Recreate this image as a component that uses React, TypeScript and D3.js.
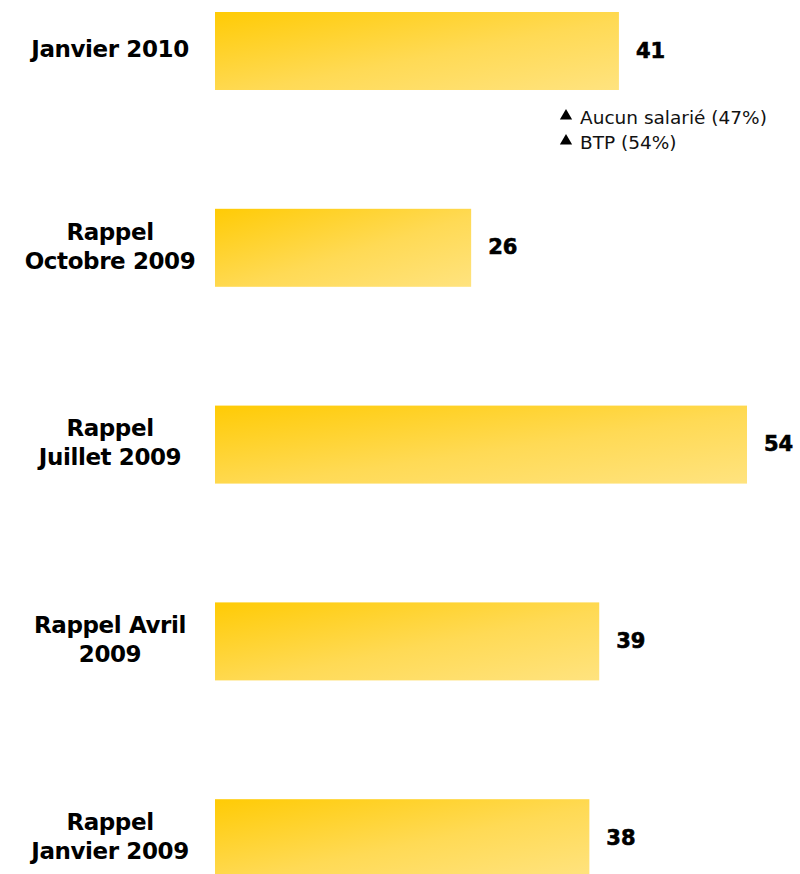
import React from "react";
import * as d3 from "d3";

const categories: string[][] = [
  ["Janvier 2010"],
  ["Rappel", "Octobre 2009"],
  ["Rappel", "Juillet 2009"],
  ["Rappel Avril", "2009"],
  ["Rappel", "Janvier 2009"],
];
const values: number[] = [41, 26, 54, 39, 38];
const notes: string[] = ["Aucun salarié (47%)", "BTP (54%)"];

const W = 800;
const H = 874;

export default function App() {
  const keys = categories.map((c) => c.join(" "));
  const x = d3.scaleLinear().domain([0, 54]).range([215, 747]);
  const y = d3
    .scaleBand<string>()
    .domain(keys)
    .range([12, 12 + 4 * 196.8 + 78])
    .paddingInner(1 - 78 / 196.8)
    .paddingOuter(0);
  const tri = d3.symbol().type(d3.symbolTriangle).size(65)() as string;
  const labelFont = "'DejaVu Sans', Verdana, sans-serif";

  return (
    <svg
      width={W}
      height={H}
      style={{ position: "absolute", left: 0, top: 0, background: "#fff" }}
    >
      <defs>
        <linearGradient id="barGrad" x1="0" y1="0" x2="1" y2="1">
          <stop offset="0%" stopColor="#FFCB05" />
          <stop offset="55%" stopColor="#FFDA55" />
          <stop offset="100%" stopColor="#FFE37F" />
        </linearGradient>
      </defs>
      {keys.map((k, i) => {
        const y0 = y(k)!;
        const bw = y.bandwidth();
        const cy = y0 + bw / 2;
        const lines = categories[i];
        const lh = 29;
        const startY = cy - 2 - ((lines.length - 1) * lh) / 2;
        return (
          <g key={k}>
            <rect
              x={x(0)}
              y={y0}
              width={x(values[i]) - x(0)}
              height={bw}
              fill="url(#barGrad)"
            />
            <text
              x={x(values[i]) + 17}
              y={cy - 1}
              dy="0.36em"
              fontFamily={labelFont}
              fontWeight="bold"
              fontSize={21}
              fill="#000"
              stroke="#000"
              strokeWidth={0.6}
            >
              {values[i]}
            </text>
            <text
              fontFamily={labelFont}
              fontWeight="bold"
              fontSize={23}
              textAnchor="middle"
              fill="#000"
              letterSpacing={-0.4}
            >
              {lines.map((l, j) => (
                <tspan key={j} x={110} y={startY + j * lh} dy="0.36em">
                  {l}
                </tspan>
              ))}
            </text>
          </g>
        );
      })}
      {notes.map((n, j) => (
        <g key={n}>
          <path d={tri} transform={`translate(566,${116 + j * 25})`} fill="#000" />
          <text
            x={580}
            y={117 + j * 25}
            dy="0.36em"
            fontFamily={labelFont}
            fontSize={18.5}
            fill="#111"
          >
            {n}
          </text>
        </g>
      ))}
    </svg>
  );
}
